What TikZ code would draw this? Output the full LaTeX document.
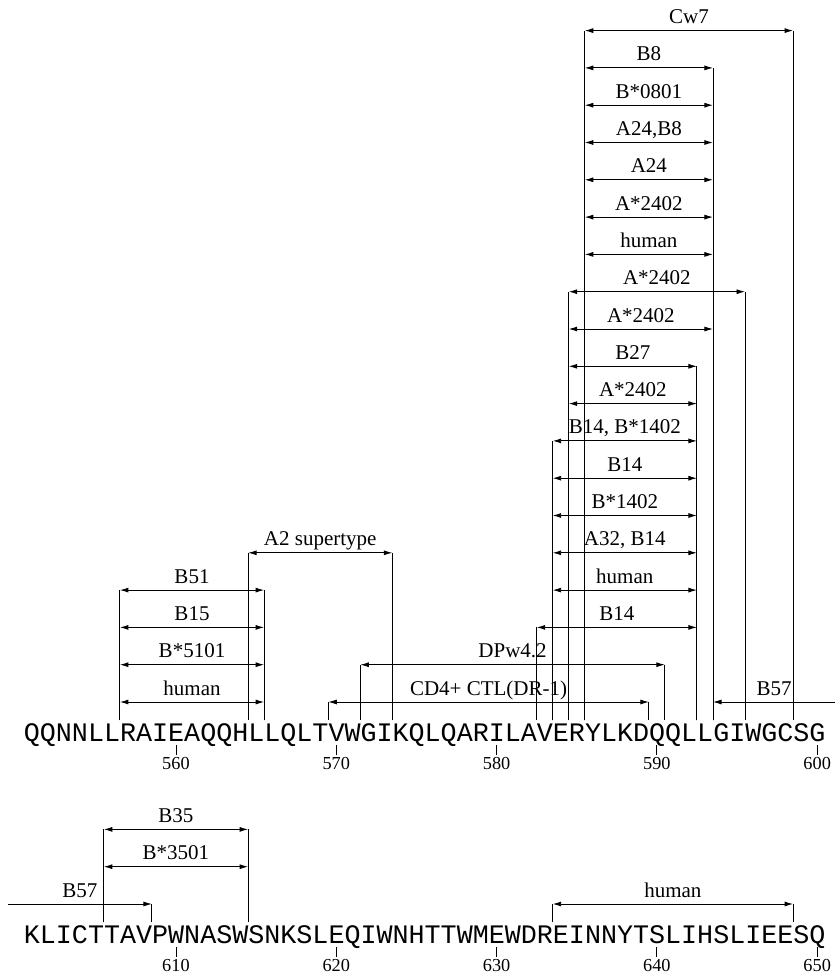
\documentclass[tikz,border=0pt]{standalone}
\usepackage{fontspec}
\setmainfont{Liberation Serif}
\newfontfamily\seqfont{Liberation Mono}
\usetikzlibrary{arrows.meta}

\begin{document}
\begin{tikzpicture}[
	x=1pt,
	y=-1pt,
	>={Latex[length=8.5pt,width=5pt]},
	epi/.style={
		draw=black,
		line width=0.9pt
	},
	hla/.style={
		midway,
		anchor=base,
		yshift=7pt,
		inner sep=0pt,
		font=\fontsize{21}{25}\selectfont
	},
	seq/.style={
		anchor=base west,
		inner sep=0pt,
		font=\seqfont\fontsize{26.72}{30}\selectfont
	},
	num/.style={
		anchor=base,
		inner sep=1.5pt,
		font=\fontsize{18.3}{22}\selectfont
	},
]
\useasboundingbox (0,0) rectangle (835,974);

\node[seq] (seq1) at (23.7,741.5) {QQNNLLRAIEAQQHLLQLTVWGIKQLQARILAVERYLKDQQLLGIWGCSG};
\node[seq] (seq2) at (23.7,943.5) {KLICTTAVPWNASWSNKSLEQIWNHTTWMEWDREINNYTSLIHSLIEESQ};

\foreach \n in {560,570,...,650} {
	\pgfmathsetmacro\row{int((\n-551)/50)}
	\pgfmathsetmacro\xx{31.7+(\n-551-50*\row)*16.03}
	\pgfmathsetmacro\yy{202*\row}
	\coordinate (t\n) at (\xx,745+\yy);
	\node[num] (n\n) at (\xx,769+\yy) {\n};
	\draw[epi] (t\n) -- (n\n.north);
}

\foreach \a/\b/\lev/\txt [count=\i] in {
	557/565/0/human,
	557/565/1/B*5101,
	557/565/2/B15,
	557/565/3/B51,
	565/573/4/{A2 supertype},
	570/589/0/{CD4+ CTL(DR-1)},
	572/590/1/DPw4.2,
	583/592/2/B14,
	584/592/3/human,
	584/592/4/{A32, B14},
	584/592/5/B*1402,
	584/592/6/B14,
	584/592/7/{B14, B*1402},
	585/592/8/A*2402,
	585/592/9/B27,
	585/593/10/A*2402,
	585/595/11/A*2402,
	586/593/12/human,
	586/593/13/A*2402,
	586/593/14/A24,
	586/593/15/{A24,B8},
	586/593/16/B*0801,
	586/593/17/B8,
	586/598/18/Cw7,
	606/614/1/B*3501,
	606/614/2/B35,
	634/648/0/human
} {
	\pgfmathsetmacro\row{int((\a-551)/50)}
	\pgfmathsetmacro\xa{23.7+(\a-551-50*\row)*16.03}
	\pgfmathsetmacro\xb{39.7+(\b-551-50*\row)*16.03}
	\pgfmathsetmacro\ya{702+202*\row-37.3*\lev}
	\pgfmathsetmacro\yb{720+202*\row}
	\coordinate (l\i) at (\xa,\ya);
	\coordinate (r\i) at (\xb,\ya);
	\coordinate (lb\i) at (\xa,\yb);
	\coordinate (rb\i) at (\xb,\yb);
	\draw[epi] (lb\i) -- (l\i);
	\draw[epi] (rb\i) -- (r\i);
	\draw[epi,<->] (l\i) -- (r\i) node[hla] {\txt};
}

\coordinate (b57a) at (713,702);
\coordinate (b57e) at (835,702);
\coordinate (b57c) at (713,720);
\draw[epi] (b57c) -- (b57a);
\draw[epi,<-] (b57a) -- (b57e) node[hla] {B57};

\coordinate (b57s) at (8,904);
\coordinate (b57b) at (151.9,904);
\coordinate (b57d) at (151.9,922);
\draw[epi] (b57d) -- (b57b);
\draw[epi,->] (b57s) -- (b57b) node[hla] {B57};

\end{tikzpicture}
\end{document}
